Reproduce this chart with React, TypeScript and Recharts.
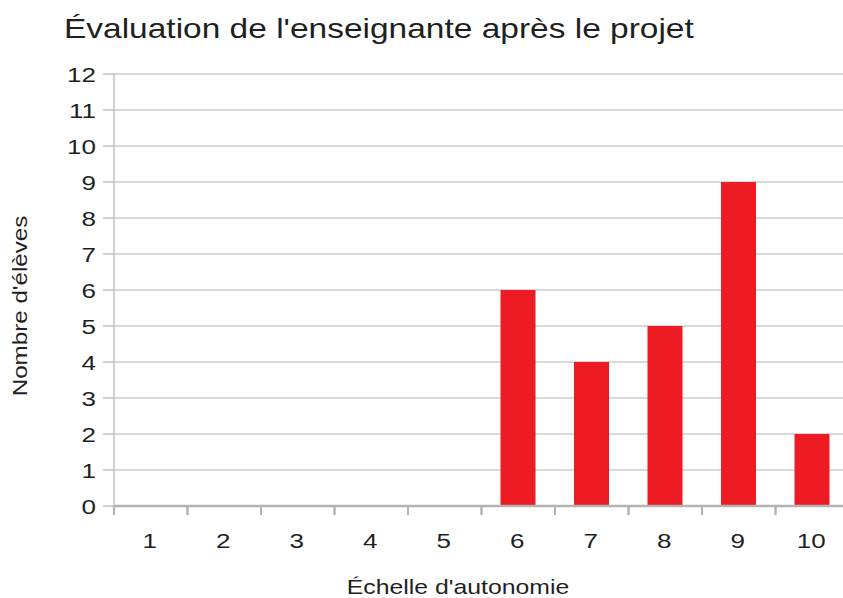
import React from 'react';
import { BarChart, Bar, XAxis, YAxis, CartesianGrid, Label } from 'recharts';

const categories = ['1', '2', '3', '4', '5', '6', '7', '8', '9', '10'];
const eleves = [0, 0, 0, 0, 0, 6, 4, 5, 9, 2];
const yTicks = [0, 1, 2, 3, 4, 5, 6, 7, 8, 9, 10, 11, 12];

const title = "Évaluation de l'enseignante après le projet";
const xTitle = "Échelle d'autonomie";
const yTitle = "Nombre d'élèves";

const data = categories.map((c, i) => ({ note: c, eleves: eleves[i] }));

const CHART_W = 870;
const CHART_H = 598;
const MARGIN = { top: 74, right: 21, bottom: 0, left: 0 };
const YAXIS_W = 114;
const XAXIS_H = 92;
const HALF_BAND = (CHART_W - MARGIN.right - MARGIN.left - YAXIS_W) / categories.length / 2;

const FONT = '"Liberation Sans", Arial, sans-serif';
const GRID = '#b3b3b3';
const TEXT = '#1f1f1f';
const SX = 1.24;

const SText = ({ x, y, size, anchor = 'start', rotate = 0, children }: any) => (
  <text
    transform={`translate(${x},${y}) rotate(${rotate}) scale(${SX},1)`}
    x={0}
    y={0}
    textAnchor={anchor}
    fontFamily={FONT}
    fontSize={size}
    fill={TEXT}
  >
    {children}
  </text>
);

const XTick = (props: any) => {
  const { x, y, payload } = props;
  const axisY = y - 25;
  return (
    <g>
      <line x1={x - HALF_BAND} x2={x - HALF_BAND} y1={axisY} y2={axisY + 9} stroke={GRID} strokeWidth={2} />
      <line x1={x + HALF_BAND} x2={x + HALF_BAND} y1={axisY} y2={axisY + 9} stroke={GRID} strokeWidth={2} />
      <SText x={x - 1} y={y + 17} size={21} anchor="middle">{payload.value}</SText>
    </g>
  );
};

const YTick = (props: any) => {
  const { x, y, payload } = props;
  return <SText x={x + 1} y={y + 7.5} size={21} anchor="end">{payload.value}</SText>;
};

export default function App() {
  return (
    <div style={{ position: 'absolute', left: 0, top: 0, width: 843, height: 598, overflow: 'hidden', background: '#fff' }}>
      <svg width={843} height={60} style={{ position: 'absolute', left: 0, top: 0 }}>
        <SText x={64} y={38} size={27}>{title}</SText>
      </svg>
      <div style={{ position: 'absolute', left: 0, top: 0 }}>
        <BarChart width={CHART_W} height={CHART_H} data={data} margin={MARGIN} barSize={35}>
          <CartesianGrid vertical={false} stroke={GRID} strokeWidth={1.2} />
          <XAxis
            dataKey="note"
            tickLine={false}
            tickSize={0}
            tickMargin={25}
            axisLine={{ stroke: GRID, strokeWidth: 2.5 }}
            tick={<XTick />}
            interval={0}
            height={XAXIS_H}
          >
            <Label
              content={() => (
                <SText x={458} y={594} size={20} anchor="middle">{xTitle}</SText>
              )}
            />
          </XAxis>
          <YAxis
            width={YAXIS_W}
            domain={[0, 12]}
            ticks={yTicks}
            interval={0}
            tickSize={11}
            tickMargin={8}
            axisLine={{ stroke: GRID, strokeWidth: 1.2 }}
            tickLine={{ stroke: GRID, strokeWidth: 1.2 }}
            tick={<YTick />}
          >
            <Label
              content={() => (
                <SText x={27} y={306} size={19.5} anchor="middle" rotate={-90}>{yTitle}</SText>
              )}
            />
          </YAxis>
          <Bar dataKey="eleves" fill="#ed1c24" isAnimationActive={false} />
        </BarChart>
      </div>
    </div>
  );
}
